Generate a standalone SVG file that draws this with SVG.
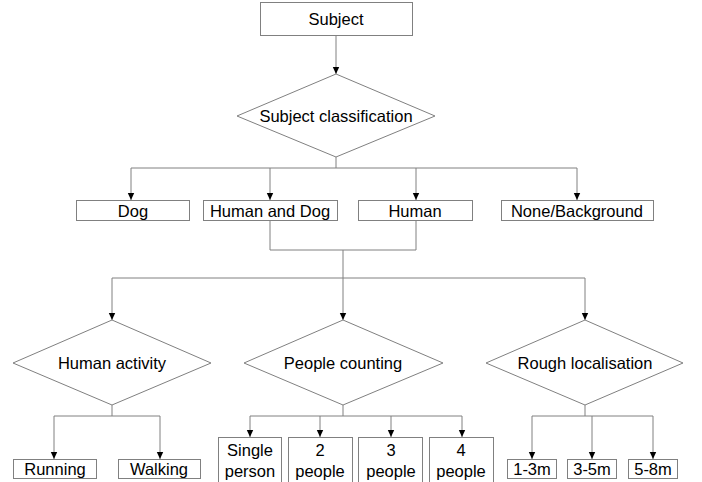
<svg xmlns="http://www.w3.org/2000/svg" width="702" height="482" viewBox="0 0 702 482">
<style>
.n{fill:#fff;stroke:#808080;stroke-width:1}
.t{font-family:"Liberation Sans",Arial,sans-serif;font-size:16.5px;fill:#000;text-anchor:middle;dominant-baseline:central}
.c{fill:none;stroke:#808080;stroke-width:1}
</style>
<defs>
<marker id="a" markerWidth="8" markerHeight="8" refX="7" refY="4" orient="auto" markerUnits="userSpaceOnUse">
<path d="M0,0.8 L7,4 L0,7.2 Z" fill="#000"/>
</marker>
</defs>
<rect width="702" height="482" fill="#fff"/>
<g id="connectors">
<path class="c" d="M336,35 V74" marker-end="url(#a)"/>
<path class="c" d="M336,157 V168 M131,168 H577"/>
<path class="c" d="M131,168 V200" marker-end="url(#a)"/>
<path class="c" d="M270,168 V200" marker-end="url(#a)"/>
<path class="c" d="M416,168 V200" marker-end="url(#a)"/>
<path class="c" d="M577,168 V200" marker-end="url(#a)"/>
<path class="c" d="M270,221 V250 H416 V221 M343,250 V278 M112,278 H585"/>
<path class="c" d="M112,278 V320" marker-end="url(#a)"/>
<path class="c" d="M343,278 V320" marker-end="url(#a)"/>
<path class="c" d="M585,278 V320" marker-end="url(#a)"/>
<path class="c" d="M112,405 V416 M54,416 H160"/>
<path class="c" d="M54,416 V459" marker-end="url(#a)"/>
<path class="c" d="M160,416 V459" marker-end="url(#a)"/>
<path class="c" d="M343,405 V416 M250,416 H462"/>
<path class="c" d="M250,416 V437" marker-end="url(#a)"/>
<path class="c" d="M320,416 V437" marker-end="url(#a)"/>
<path class="c" d="M391,416 V437" marker-end="url(#a)"/>
<path class="c" d="M462,416 V437" marker-end="url(#a)"/>
<path class="c" d="M585,405 V416 M532,416 H653"/>
<path class="c" d="M532,416 V459" marker-end="url(#a)"/>
<path class="c" d="M592,416 V459" marker-end="url(#a)"/>
<path class="c" d="M653,416 V459" marker-end="url(#a)"/>
</g>
<g id="subject"><rect class="n" x="260.5" y="2.5" width="152" height="33"/><text class="t" x="336" y="19">Subject</text></g>
<g id="classification"><polygon class="n" points="336,74 435,116 336,157 237,116"/><text class="t" x="336" y="116">Subject classification</text></g>
<g id="dog"><rect class="n" x="76.5" y="200.5" width="113" height="20"/><text class="t" x="133" y="211">Dog</text></g>
<g id="humandog"><rect class="n" x="203.5" y="200.5" width="134" height="20"/><text class="t" x="270" y="211">Human and Dog</text></g>
<g id="human"><rect class="n" x="358.5" y="200.5" width="114" height="20"/><text class="t" x="415" y="211">Human</text></g>
<g id="none"><rect class="n" x="501.5" y="200.5" width="152" height="20"/><text class="t" x="577" y="211">None/Background</text></g>
<g id="activity"><polygon class="n" points="112,320 211,363 112,405 13,363"/><text class="t" x="112" y="363">Human activity</text></g>
<g id="counting"><polygon class="n" points="343,320 443,363 343,405 244,363"/><text class="t" x="343" y="363">People counting</text></g>
<g id="localisation"><polygon class="n" points="585,320 683,363 585,405 486,363"/><text class="t" x="585" y="363">Rough localisation</text></g>
<g id="running"><rect class="n" x="13.5" y="459.5" width="83" height="19"/><text class="t" x="55" y="469">Running</text></g>
<g id="walking"><rect class="n" x="118.5" y="459.5" width="82" height="19"/><text class="t" x="159" y="469">Walking</text></g>
<g id="single"><rect class="n" x="218.5" y="437.5" width="63" height="50"/><text class="t" x="250" y="450">Single</text><text class="t" x="250" y="471">person</text></g>
<g id="two"><rect class="n" x="288.5" y="437.5" width="64" height="50"/><text class="t" x="320" y="450">2</text><text class="t" x="320" y="471">people</text></g>
<g id="three"><rect class="n" x="358.5" y="437.5" width="64" height="50"/><text class="t" x="391" y="450">3</text><text class="t" x="391" y="471">people</text></g>
<g id="four"><rect class="n" x="429.5" y="437.5" width="64" height="50"/><text class="t" x="461" y="450">4</text><text class="t" x="461" y="471">people</text></g>
<g id="m13"><rect class="n" x="507.5" y="459.5" width="49" height="19"/><text class="t" x="532" y="469">1-3m</text></g>
<g id="m35"><rect class="n" x="567.5" y="459.5" width="49" height="19"/><text class="t" x="592" y="469">3-5m</text></g>
<g id="m58"><rect class="n" x="628.5" y="459.5" width="49" height="19"/><text class="t" x="653" y="469">5-8m</text></g>
</svg>
